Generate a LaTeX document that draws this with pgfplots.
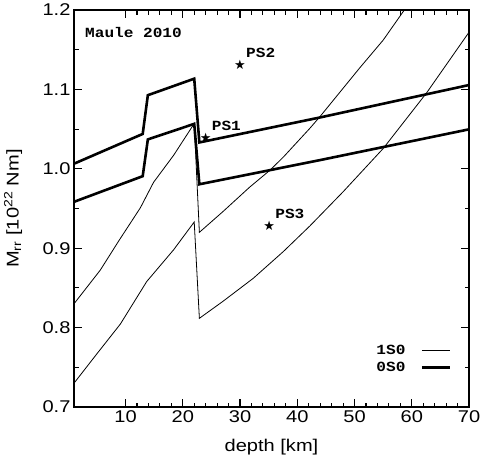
\documentclass[border=0pt]{standalone}
\usepackage{fontspec}
\setmainfont{Liberation Sans}[FakeStretch=1.18]
\newfontfamily\mono{Liberation Mono}[FakeStretch=1.15]
\newfontfamily\sym{DejaVu Sans}
\usepackage{pgfplots}
\pgfplotsset{compat=1.18}
\usetikzlibrary{calc}
\begin{document}
\begin{tikzpicture}
\begin{axis}[
  scale only axis, width=395pt, height=397pt,
  xmin=1, xmax=70, ymin=0.7, ymax=1.2,
  xtick={10,20,30,40,50,60,70}, minor x tick num=4,
  xticklabels={10,20,30,40,50,60,70},
  ytick={0.7,0.8,0.9,1.0,1.1,1.2}, minor y tick num=1,
  yticklabels={0.7,0.8,0.9,1.0,1.1,1.2},
  xtick pos=both, ytick pos=both,
  tick align=inside,
  major tick length=8pt, minor tick length=4.5pt,
  every major tick/.append style={black, line width=1.1pt},
  every minor tick/.append style={black, line width=1.1pt},
  axis line style={line width=1.6pt},
  xticklabel style={font=\fontsize{17}{20}\selectfont},
  yticklabel style={font=\fontsize{17}{20}\selectfont},
  xlabel={depth [km]},
  ylabel={M\textsubscript{rr} [10\textsuperscript{22} Nm]},
  xlabel style={font=\fontsize{17}{20}\selectfont, at={(axis description cs:0.5,-0.1008)}, anchor=center},
  ylabel style={font=\fontsize{17}{20}\selectfont, at={(axis description cs:-0.1544,0.5)}, anchor=center},
  legend plot pos=right,
  legend image code/.code={\path (0pt,0pt); \draw[#1] (13pt,0pt) -- (41pt,0pt);},
  legend style={at={(axis cs:66.9,0.7605)}, anchor=east, draw=none, fill=none,
    font=\mono\bfseries\fontsize{14}{16}\selectfont, row sep=2pt, inner sep=0pt},
]
\addplot[black, line width=0.8pt, forget plot] coordinates {
(1,0.830) (5.6,0.8725) (8.8,0.909) (12.6,0.951) (14.9,0.983) (18.4,1.017) (22.0,1.057)
(22.9,0.920) (27,0.946) (31.7,0.977) (35.2,0.998) (37.6,1.015) (42.2,1.051) (44,1.066)
(50.9,1.127) (55,1.162) (58.7,1.200) (62.6,1.242)};
\addplot[black, line width=0.8pt, forget plot] coordinates {
(1,0.730) (5,0.767) (9.1,0.8045) (13.7,0.858) (18.4,0.898) (22.0,0.933)
(22.9,0.8117) (27,0.833) (32.3,0.862) (37.6,0.896) (42.2,0.928) (48,0.971)
(55,1.0255) (62.6,1.0957) (70,1.172)};
\addplot[black, line width=2.6pt, forget plot] coordinates {
(1,1.0064) (13.0,1.0439) (13.9,1.0927) (22.0,1.1135) (22.9,1.0332) (44,1.0647) (70,1.1055)};
\addplot[black, line width=2.6pt, forget plot] coordinates {
(1,0.9584) (13.0,0.9907) (13.9,1.037) (22.0,1.0566) (22.9,0.9805) (44,1.011) (70,1.0497)};
\addplot[only marks, mark=text, text mark={\fontsize{13}{13}\sym ★}, forget plot] coordinates {
(24.0,1.0396) (30.0,1.131) (35.1,0.9286)};
\addlegendimage{black, line width=0.8pt}
\addlegendentry{1S0}
\addlegendimage{black, line width=2.6pt}
\addlegendentry{0S0}
\node[anchor=base west, inner sep=0pt, xshift=6pt, yshift=7pt, font=\mono\bfseries\fontsize{14}{16}\selectfont] at (axis cs:24.0,1.0396) {PS1};
\node[anchor=base west, inner sep=0pt, xshift=6pt, yshift=7pt, font=\mono\bfseries\fontsize{14}{16}\selectfont] at (axis cs:30.0,1.131) {PS2};
\node[anchor=base west, inner sep=0pt, xshift=6pt, yshift=7pt, font=\mono\bfseries\fontsize{14}{16}\selectfont] at (axis cs:35.1,0.9286) {PS3};
\node[anchor=base west, inner sep=0pt, xshift=11pt, yshift=-27pt, font=\mono\bfseries\fontsize{14}{16}\selectfont] at (rel axis cs:0,1) {Maule 2010};
\end{axis}
\draw[line width=1.6pt] (current axis.south west) rectangle (current axis.north east);
\pgfresetboundingbox
\path[use as bounding box] ($(current axis.south west)+(-74pt,-56pt)$) rectangle ($(current axis.north east)+(12pt,10pt)$);
\end{tikzpicture}
\end{document}
